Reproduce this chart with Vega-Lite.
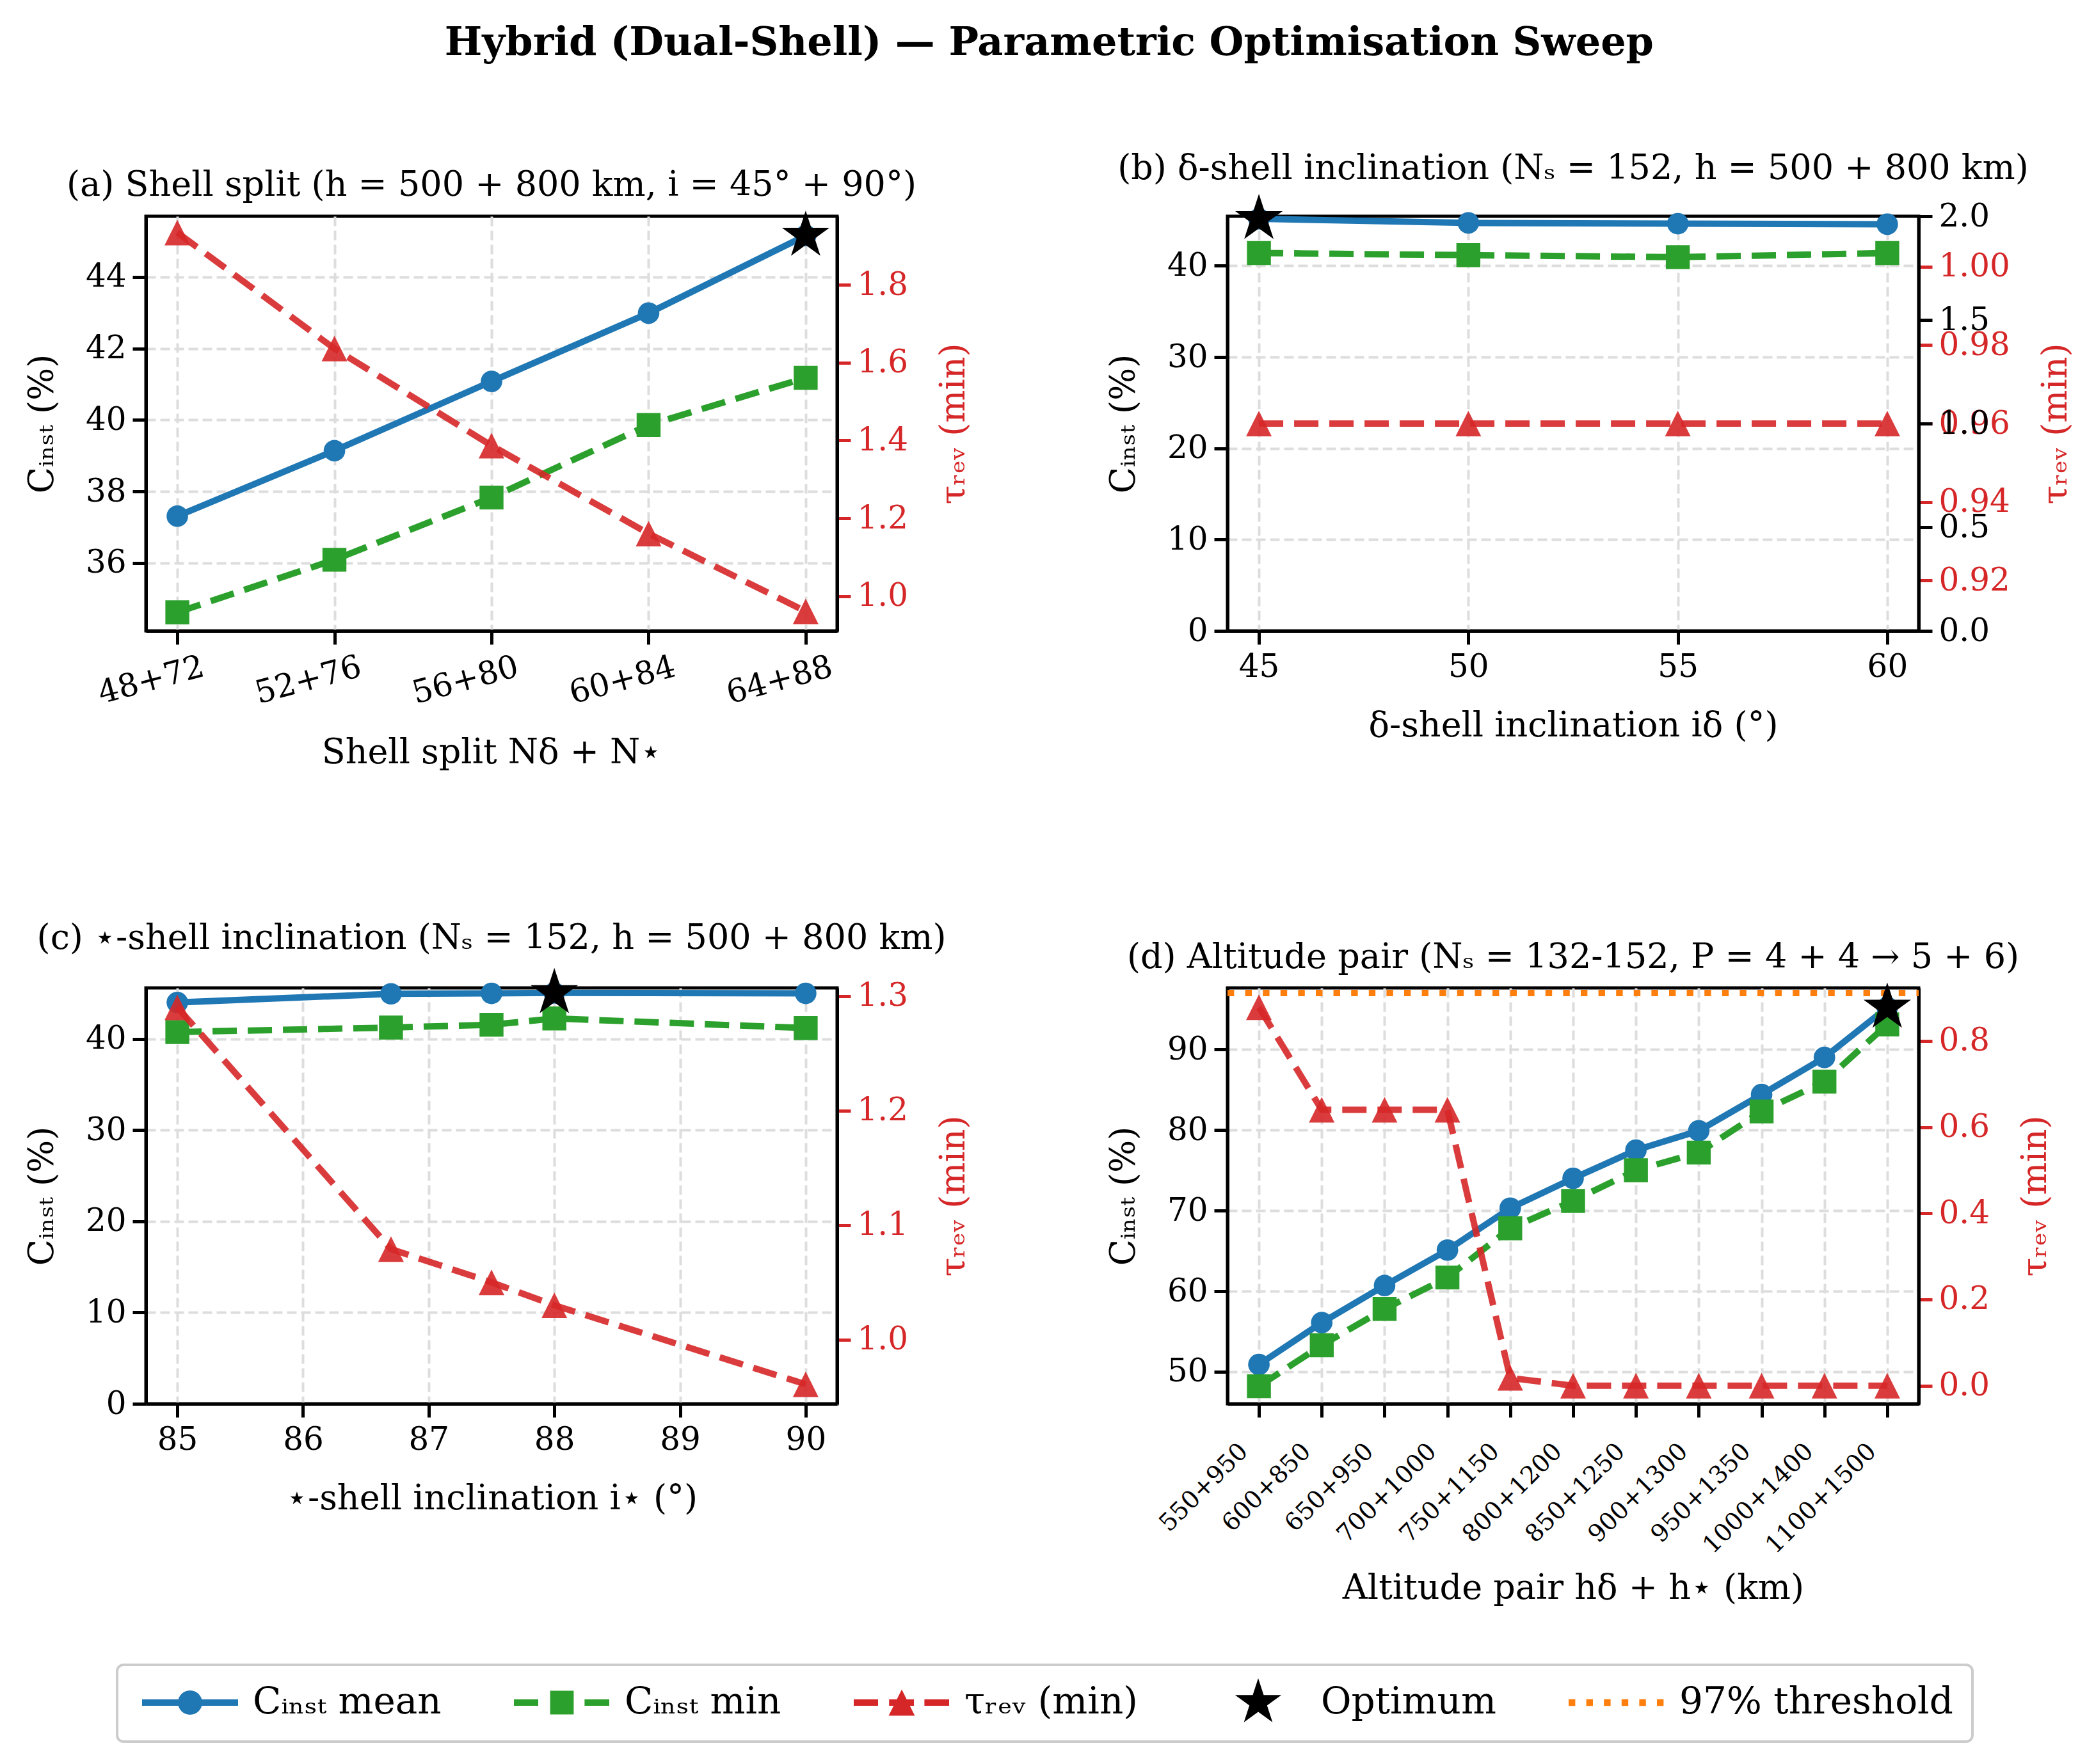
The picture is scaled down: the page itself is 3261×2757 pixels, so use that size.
{
  "$schema": "https://vega.github.io/schema/vega-lite/v6.json",
  "background": "white",
  "padding": {"left": 36, "top": 36, "right": 30, "bottom": 30},
  "title": {"text": "Hybrid (Dual-Shell) — Parametric Optimisation Sweep", "fontSize": 62, "fontWeight": "bold", "anchor": "middle", "offset": 135},
  "config": {
    "font": "DejaVu Serif",
    "view": {"stroke": "black", "strokeWidth": 5},
    "axis": {"domainColor": "black", "domainWidth": 5, "tickColor": "black", "tickWidth": 5, "tickSize": 21, "labelFont": "DejaVu Serif", "labelFontSize": 50, "labelColor": "black", "labelPadding": 10, "labelLimit": 1000, "titleFont": "DejaVu Serif", "titleFontSize": 54, "titleFontWeight": "normal", "titleColor": "black", "grid": true, "gridColor": "#dddddd", "gridDash": [15, 7], "gridWidth": 4, "labelFlush": false, "labelOverlap": false},
    "axisX": {"titlePadding": 40},
    "legend": {"strokeWidth": 4},
    "title": {"font": "DejaVu Serif", "fontSize": 54, "fontWeight": "normal", "color": "black", "offset": 12, "anchor": "middle"}
  },
  "datasets": {
    "a": [
      {"x": "48+72", "mean": 37.31, "min": 34.62, "tau": 1.934, "opt": false},
      {"x": "52+76", "mean": 39.14, "min": 36.09, "tau": 1.636, "opt": false},
      {"x": "56+80", "mean": 41.08, "min": 37.83, "tau": 1.387, "opt": false},
      {"x": "60+84", "mean": 42.99, "min": 39.86, "tau": 1.161, "opt": false},
      {"x": "64+88", "mean": 45.16, "min": 41.18, "tau": 0.961, "opt": true}
    ],
    "b": [
      {"x": 45, "mean": 45.15, "min": 41.4, "tau": 0.96, "opt": true},
      {"x": 50, "mean": 44.7, "min": 41.17, "tau": 0.96, "opt": false},
      {"x": 55, "mean": 44.62, "min": 40.95, "tau": 0.96, "opt": false},
      {"x": 60, "mean": 44.56, "min": 41.4, "tau": 0.96, "opt": false}
    ],
    "c": [
      {"x": 85, "mean": 44.0, "min": 40.76, "tau": 1.29, "opt": false},
      {"x": 86.7, "mean": 44.95, "min": 41.25, "tau": 1.079, "opt": false},
      {"x": 87.5, "mean": 45.0, "min": 41.56, "tau": 1.05, "opt": false},
      {"x": 88, "mean": 45.05, "min": 42.25, "tau": 1.03, "opt": true},
      {"x": 90, "mean": 45.0, "min": 41.2, "tau": 0.961, "opt": false}
    ],
    "d": [
      {"x": "550+950", "mean": 50.9, "min": 48.2, "tau": 0.878, "opt": false},
      {"x": "600+850", "mean": 56.1, "min": 53.3, "tau": 0.64, "opt": false},
      {"x": "650+950", "mean": 60.7, "min": 57.8, "tau": 0.64, "opt": false},
      {"x": "700+1000", "mean": 65.1, "min": 61.7, "tau": 0.64, "opt": false},
      {"x": "750+1150", "mean": 70.3, "min": 67.8, "tau": 0.018, "opt": false},
      {"x": "800+1200", "mean": 74.0, "min": 71.2, "tau": 0.0, "opt": false},
      {"x": "850+1250", "mean": 77.5, "min": 75.0, "tau": 0.0, "opt": false},
      {"x": "900+1300", "mean": 79.9, "min": 77.2, "tau": 0.0, "opt": false},
      {"x": "950+1350", "mean": 84.4, "min": 82.3, "tau": 0.0, "opt": false},
      {"x": "1000+1400", "mean": 89.0, "min": 86.0, "tau": 0.0, "opt": false},
      {"x": "1100+1500", "mean": 95.2, "min": 93.1, "tau": 0.0, "opt": true}
    ],
    "thr": [{"threshold": 97}],
    "legendItems": [{"item": "Cᵢₙₛₜ mean"}, {"item": "Cᵢₙₛₜ min"}, {"item": "τᵣₑᵥ (min)"}, {"item": "Optimum"}, {"item": "97% threshold"}]
  },
  "columns": 2,
  "spacing": {"row": 558, "column": 610},
  "bounds": "flush",
  "concat": [
    {
      "title": "(a) Shell split (h = 500 + 800 km, i = 45° + 90°)",
      "width": 1080, "height": 648,
      "data": {"name": "a"},
      "encoding": {"x": {"field": "x", "type": "ordinal", "sort": null, "title": "Shell split Nδ + N⋆", "scale": {"type": "point", "padding": 0.2}, "axis": {"labelAngle": -15, "labelAlign": "right", "labelBaseline": "top", "labelOffset": 34}}},
      "resolve": {"scale": {"y": "independent"}},
      "layer": [
        {"layer": [
          {"mark": {"type": "line", "color": "#1f77b4", "strokeWidth": 10}, "encoding": {"y": {"field": "mean", "type": "quantitative", "title": "Cᵢₙₛₜ (%)", "scale": {"domain": [34.1, 45.7], "nice": false, "zero": false}, "axis": {"orient": "left", "values": [36, 38, 40, 42, 44], "format": "d", "titlePadding": 40}}}},
          {"mark": {"type": "point", "shape": "circle", "filled": true, "color": "#1f77b4", "size": 1134, "opacity": 1}, "encoding": {"y": {"field": "mean", "type": "quantitative", "title": "Cᵢₙₛₜ (%)"}}},
          {"mark": {"type": "line", "color": "#2ca02c", "strokeWidth": 10, "strokeDash": [38, 17]}, "encoding": {"y": {"field": "min", "type": "quantitative", "title": "Cᵢₙₛₜ (%)"}}},
          {"mark": {"type": "point", "shape": "square", "filled": true, "color": "#2ca02c", "size": 1400, "opacity": 1}, "encoding": {"y": {"field": "min", "type": "quantitative", "title": "Cᵢₙₛₜ (%)"}}},
          {"transform": [{"filter": "datum.opt"}], "mark": {"type": "point", "shape": "M0,-1L0.2245,-0.309L0.9511,-0.309L0.3633,0.118L0.5878,0.809L0,0.382L-0.5878,0.809L-0.3633,0.118L-0.9511,-0.309L-0.2245,-0.309Z", "filled": true, "color": "black", "size": 6084, "opacity": 1}, "encoding": {"y": {"field": "mean", "type": "quantitative", "title": "Cᵢₙₛₜ (%)"}}}
        ]},
        {"layer": [
          {"mark": {"type": "line", "color": "#d62728", "opacity": 0.9, "strokeWidth": 10, "strokeDash": [38, 17]}, "encoding": {"y": {"field": "tau", "type": "quantitative", "title": "τᵣₑᵥ (min)", "scale": {"domain": [0.911, 1.976], "nice": false, "zero": false}, "axis": {"orient": "right", "values": [1.0, 1.2, 1.4, 1.6, 1.8], "format": ".1f", "labelColor": "#d62728", "tickColor": "#d62728", "titleColor": "#d62728", "titleAngle": 270, "titleBaseline": "top", "titlePadding": 45}}}},
          {"mark": {"type": "point", "shape": "M0,-1L1,1L-1,1Z", "filled": true, "color": "#d62728", "size": 1600, "opacity": 0.9}, "encoding": {"y": {"field": "tau", "type": "quantitative", "title": "τᵣₑᵥ (min)"}}}
        ]}
      ]
    },
    {
      "title": "(b) δ-shell inclination (Nₛ = 152, h = 500 + 800 km)",
      "width": 1080, "height": 648,
      "data": {"name": "b"},
      "encoding": {"x": {"field": "x", "type": "quantitative", "title": "δ-shell inclination iδ (°)", "scale": {"domain": [44.25, 60.75], "nice": false, "zero": false}, "axis": {"values": [45, 50, 55, 60]}}},
      "resolve": {"scale": {"y": "independent"}},
      "layer": [
        {"layer": [
          {"mark": {"type": "line", "color": "#1f77b4", "strokeWidth": 10}, "encoding": {"y": {"field": "mean", "type": "quantitative", "title": "Cᵢₙₛₜ (%)", "scale": {"domain": [0, 45.43], "nice": false, "zero": false}, "axis": {"orient": "left", "values": [0, 10, 20, 30, 40], "format": "d", "titlePadding": 40}}}},
          {"mark": {"type": "point", "shape": "circle", "filled": true, "color": "#1f77b4", "size": 1134, "opacity": 1}, "encoding": {"y": {"field": "mean", "type": "quantitative", "title": "Cᵢₙₛₜ (%)"}}},
          {"mark": {"type": "line", "color": "#2ca02c", "strokeWidth": 10, "strokeDash": [38, 17]}, "encoding": {"y": {"field": "min", "type": "quantitative", "title": "Cᵢₙₛₜ (%)"}}},
          {"mark": {"type": "point", "shape": "square", "filled": true, "color": "#2ca02c", "size": 1400, "opacity": 1}, "encoding": {"y": {"field": "min", "type": "quantitative", "title": "Cᵢₙₛₜ (%)"}}},
          {"transform": [{"filter": "datum.opt"}], "mark": {"type": "point", "shape": "M0,-1L0.2245,-0.309L0.9511,-0.309L0.3633,0.118L0.5878,0.809L0,0.382L-0.5878,0.809L-0.3633,0.118L-0.9511,-0.309L-0.2245,-0.309Z", "filled": true, "color": "black", "size": 6084, "opacity": 1}, "encoding": {"y": {"field": "mean", "type": "quantitative", "title": "Cᵢₙₛₜ (%)"}}}
        ]},
        {"layer": [
          {"mark": {"type": "line", "color": "#d62728", "opacity": 0.9, "strokeWidth": 10, "strokeDash": [38, 17]}, "encoding": {"y": {"field": "tau", "type": "quantitative", "title": "τᵣₑᵥ (min)", "scale": {"domain": [0.9072, 1.0128], "nice": false, "zero": false}, "axis": {"orient": "right", "values": [0.92, 0.94, 0.96, 0.98, 1.0], "format": ".2f", "labelColor": "#d62728", "tickColor": "#d62728", "titleColor": "#d62728", "titleAngle": 270, "titleBaseline": "top", "titlePadding": 45}}}},
          {"mark": {"type": "point", "shape": "M0,-1L1,1L-1,1Z", "filled": true, "color": "#d62728", "size": 1600, "opacity": 0.9}, "encoding": {"y": {"field": "tau", "type": "quantitative", "title": "τᵣₑᵥ (min)"}}}
        ]},
        {"mark": {"type": "point", "opacity": 0}, "encoding": {"y": {"field": "tau", "type": "quantitative", "scale": {"domain": [0, 2], "nice": false, "zero": false}, "axis": {"orient": "right", "values": [0, 0.5, 1, 1.5, 2], "format": ".1f", "title": null}}}}
      ]
    },
    {
      "title": "(c) ⋆-shell inclination (Nₛ = 152, h = 500 + 800 km)",
      "width": 1080, "height": 650,
      "data": {"name": "c"},
      "encoding": {"x": {"field": "x", "type": "quantitative", "title": "⋆-shell inclination i⋆ (°)", "scale": {"domain": [84.75, 90.25], "nice": false, "zero": false}, "axis": {"values": [85, 86, 87, 88, 89, 90]}}},
      "resolve": {"scale": {"y": "independent"}},
      "layer": [
        {"layer": [
          {"mark": {"type": "line", "color": "#1f77b4", "strokeWidth": 10}, "encoding": {"y": {"field": "mean", "type": "quantitative", "title": "Cᵢₙₛₜ (%)", "scale": {"domain": [0, 45.6], "nice": false, "zero": false}, "axis": {"orient": "left", "values": [0, 10, 20, 30, 40], "format": "d", "titlePadding": 40}}}},
          {"mark": {"type": "point", "shape": "circle", "filled": true, "color": "#1f77b4", "size": 1134, "opacity": 1}, "encoding": {"y": {"field": "mean", "type": "quantitative", "title": "Cᵢₙₛₜ (%)"}}},
          {"mark": {"type": "line", "color": "#2ca02c", "strokeWidth": 10, "strokeDash": [38, 17]}, "encoding": {"y": {"field": "min", "type": "quantitative", "title": "Cᵢₙₛₜ (%)"}}},
          {"mark": {"type": "point", "shape": "square", "filled": true, "color": "#2ca02c", "size": 1400, "opacity": 1}, "encoding": {"y": {"field": "min", "type": "quantitative", "title": "Cᵢₙₛₜ (%)"}}},
          {"transform": [{"filter": "datum.opt"}], "mark": {"type": "point", "shape": "M0,-1L0.2245,-0.309L0.9511,-0.309L0.3633,0.118L0.5878,0.809L0,0.382L-0.5878,0.809L-0.3633,0.118L-0.9511,-0.309L-0.2245,-0.309Z", "filled": true, "color": "black", "size": 6084, "opacity": 1}, "encoding": {"y": {"field": "mean", "type": "quantitative", "title": "Cᵢₙₛₜ (%)"}}}
        ]},
        {"layer": [
          {"mark": {"type": "line", "color": "#d62728", "opacity": 0.9, "strokeWidth": 10, "strokeDash": [38, 17]}, "encoding": {"y": {"field": "tau", "type": "quantitative", "title": "τᵣₑᵥ (min)", "scale": {"domain": [0.944, 1.307], "nice": false, "zero": false}, "axis": {"orient": "right", "values": [1.0, 1.1, 1.2, 1.3], "format": ".1f", "labelColor": "#d62728", "tickColor": "#d62728", "titleColor": "#d62728", "titleAngle": 270, "titleBaseline": "top", "titlePadding": 45}}}},
          {"mark": {"type": "point", "shape": "M0,-1L1,1L-1,1Z", "filled": true, "color": "#d62728", "size": 1600, "opacity": 0.9}, "encoding": {"y": {"field": "tau", "type": "quantitative", "title": "τᵣₑᵥ (min)"}}}
        ]},
        {
          "data": {"name": "legendItems"},
          "mark": {"type": "point", "filled": true, "opacity": 0, "size": 1600},
          "encoding": {
            "x": {"value": 0},
            "y": {"value": 0},
            "color": {"field": "item", "type": "nominal", "scale": {"domain": ["Cᵢₙₛₜ mean", "Cᵢₙₛₜ min", "τᵣₑᵥ (min)", "Optimum", "97% threshold"], "range": ["#1f77b4", "#2ca02c", "#d62728", "#000000", "#ff7f0e"]},
              "legend": {"title": null, "orient": "none", "legendX": -45, "legendY": 2264, "direction": "horizontal", "columns": 5, "gridAlign": "none", "symbolSize": 1600, "symbolStrokeWidth": 0, "symbolOpacity": 1, "labelFont": "DejaVu Serif", "labelFontSize": 58, "labelColor": "black", "labelOffset": 124, "labelLimit": 1000, "labelBaseline": "middle", "columnPadding": 104, "padding": 30, "strokeColor": "#cccccc", "fillColor": "white", "cornerRadius": 10}},
            "shape": {"field": "item", "type": "nominal", "scale": {"domain": ["Cᵢₙₛₜ mean", "Cᵢₙₛₜ min", "τᵣₑᵥ (min)", "Optimum", "97% threshold"], "range": [
              "M-1,-0.25H1.85V0.25H-1Z M3.65,-0.25H6.5V0.25H3.65Z M1.8,0A0.95,0.95 0 1,1 3.7,0A0.95,0.95 0 1,1 1.8,0Z",
              "M-1,-0.25H0.9V0.25H-1Z M1.83,-0.92H3.67V0.92H1.83Z M4.52,-0.25H6.45V0.25H4.52Z",
              "M-1,-0.25H0.9V0.25H-1Z M1.76,-0.25H3.7V0.25H1.76Z M2.75,-1.02L3.77,1.02L1.73,1.02Z M4.52,-0.25H6.45V0.25H4.52Z",
              "M2.75,-1.9L3.1766,-0.5871L4.5571,-0.5871L3.4403,0.2242L3.8668,1.5371L2.75,0.7258L1.6332,1.5371L2.0597,0.2242L0.9429,-0.5871L2.3234,-0.5871Z",
              "M-1,-0.26h0.52v0.52h-0.52Z M0.38,-0.26h0.52v0.52h-0.52Z M1.76,-0.26h0.52v0.52h-0.52Z M3.14,-0.26h0.52v0.52h-0.52Z M4.52,-0.26h0.52v0.52h-0.52Z M5.9,-0.26h0.52v0.52h-0.52Z"
            ]},
              "legend": {"title": null, "orient": "none", "legendX": -45, "legendY": 2264, "direction": "horizontal", "columns": 5, "gridAlign": "none", "symbolSize": 1600, "symbolStrokeWidth": 0, "symbolOpacity": 1, "labelFont": "DejaVu Serif", "labelFontSize": 58, "labelColor": "black", "labelOffset": 124, "labelLimit": 1000, "labelBaseline": "middle", "columnPadding": 104, "padding": 30, "strokeColor": "#cccccc", "fillColor": "white", "cornerRadius": 10}}
          }
        }
      ]
    },
    {
      "title": "(d) Altitude pair (Nₛ = 132-152, P = 4 + 4 → 5 + 6)",
      "width": 1080, "height": 650,
      "data": {"name": "d"},
      "encoding": {"x": {"field": "x", "type": "ordinal", "sort": null, "title": "Altitude pair hδ + h⋆ (km)", "scale": {"type": "point", "padding": 0.5}, "axis": {"labelAngle": -45, "labelAlign": "right", "labelBaseline": "top", "labelFontSize": 38, "labelPadding": 34, "labelOffset": -37, "titleY": 261, "titleBaseline": "top"}}},
      "resolve": {"scale": {"y": "independent"}},
      "layer": [
        {"layer": [
          {"mark": {"type": "line", "color": "#1f77b4", "strokeWidth": 10}, "encoding": {"y": {"field": "mean", "type": "quantitative", "title": "Cᵢₙₛₜ (%)", "scale": {"domain": [46.03, 97.63], "nice": false, "zero": false}, "axis": {"orient": "left", "values": [50, 60, 70, 80, 90], "format": "d", "titlePadding": 40}}}},
          {"mark": {"type": "point", "shape": "circle", "filled": true, "color": "#1f77b4", "size": 1134, "opacity": 1}, "encoding": {"y": {"field": "mean", "type": "quantitative", "title": "Cᵢₙₛₜ (%)"}}},
          {"mark": {"type": "line", "color": "#2ca02c", "strokeWidth": 10, "strokeDash": [38, 17]}, "encoding": {"y": {"field": "min", "type": "quantitative", "title": "Cᵢₙₛₜ (%)"}}},
          {"mark": {"type": "point", "shape": "square", "filled": true, "color": "#2ca02c", "size": 1400, "opacity": 1}, "encoding": {"y": {"field": "min", "type": "quantitative", "title": "Cᵢₙₛₜ (%)"}}},
          {"data": {"name": "thr"}, "mark": {"type": "rule", "color": "#ff7f0e", "strokeWidth": 10, "strokeDash": [10.4, 17.2]}, "encoding": {"x": {"value": 0}, "x2": {"value": "width"}, "y": {"field": "threshold", "type": "quantitative", "title": "Cᵢₙₛₜ (%)"}}},
          {"transform": [{"filter": "datum.opt"}], "mark": {"type": "point", "shape": "M0,-1L0.2245,-0.309L0.9511,-0.309L0.3633,0.118L0.5878,0.809L0,0.382L-0.5878,0.809L-0.3633,0.118L-0.9511,-0.309L-0.2245,-0.309Z", "filled": true, "color": "black", "size": 6084, "opacity": 1}, "encoding": {"y": {"field": "mean", "type": "quantitative", "title": "Cᵢₙₛₜ (%)"}}}
        ]},
        {"layer": [
          {"mark": {"type": "line", "color": "#d62728", "opacity": 0.9, "strokeWidth": 10, "strokeDash": [38, 17]}, "encoding": {"y": {"field": "tau", "type": "quantitative", "title": "τᵣₑᵥ (min)", "scale": {"domain": [-0.042, 0.923], "nice": false, "zero": false}, "axis": {"orient": "right", "values": [0.0, 0.2, 0.4, 0.6, 0.8], "format": ".1f", "labelColor": "#d62728", "tickColor": "#d62728", "titleColor": "#d62728", "titleAngle": 270, "titleBaseline": "top", "titlePadding": 45}}}},
          {"mark": {"type": "point", "shape": "M0,-1L1,1L-1,1Z", "filled": true, "color": "#d62728", "size": 1600, "opacity": 0.9}, "encoding": {"y": {"field": "tau", "type": "quantitative", "title": "τᵣₑᵥ (min)"}}}
        ]}
      ]
    }
  ]
}
